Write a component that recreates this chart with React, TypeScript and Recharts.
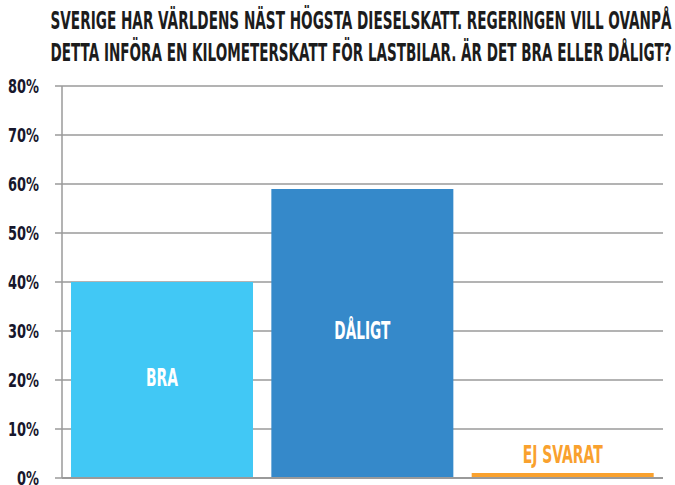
import { BarChart, Bar, XAxis, YAxis, CartesianGrid, Cell, LabelList } from "recharts";

const categories = ["BRA", "DÅLIGT", "EJ SVARAT"];
const values = [40, 59, 1];
const barColors = ["#41C8F5", "#3589CA", "#F9A12E"];
const yTicks = [0, 10, 20, 30, 40, 50, 60, 70, 80];
const titleLines = [
  "SVERIGE HAR VÄRLDENS NÄST HÖGSTA DIESELSKATT. REGERINGEN VILL OVANPÅ",
  "DETTA INFÖRA EN KILOMETERSKATT FÖR LASTBILAR. ÄR DET BRA ELLER DÅLIGT?",
];

const data = categories.map((name, i) => ({ name, value: values[i] }));

const FONT = "'Liberation Sans Narrow', 'DejaVu Sans Condensed', 'Arial Narrow', sans-serif";
const GRID = "#9a9a9a";

const YTick = (props: any) => {
  const { x, y, payload } = props;
  const label = `${payload.value}%`;
  return (
    <text
      x={x}
      y={y}
      dy={7}
      textAnchor="end"
      fill="#17172c"
      fontFamily={FONT}
      fontWeight={700}
      fontSize={19}
      textLength={label.length === 3 ? 31 : 22}
      lengthAdjust="spacingAndGlyphs"
    >
      {label}
    </text>
  );
};

const labelWidths: Record<string, number> = { BRA: 32, "DÅLIGT": 56, "EJ SVARAT": 80 };

const BarLabel = (props: any) => {
  const { x, y, width, height, index } = props;
  const name = categories[index];
  const inside = index < 2;
  const cx = x + width / 2;
  const cy = inside ? y + height / 2 + 6 : y - 10;
  return (
    <text
      x={cx}
      y={cy}
      textAnchor="middle"
      fill={inside ? "#ffffff" : barColors[index]}
      fontFamily={FONT}
      fontWeight={700}
      fontSize={24}
      textLength={labelWidths[name]}
      lengthAdjust="spacingAndGlyphs"
    >
      {name}
    </text>
  );
};

const App = () => {
  return (
    <div style={{ position: "absolute", left: 0, top: 0, width: 675, height: 485, background: "#fff" }}>
      <svg width={675} height={80} style={{ position: "absolute", left: 0, top: 0 }}>
        {titleLines.map((line, i) => (
          <text
            key={i}
            x={361}
            y={29 + i * 32}
            textAnchor="middle"
            fill="#1c1c1c"
            fontFamily={FONT}
            fontWeight={700}
            fontSize={25}
            textLength={621}
            lengthAdjust="spacingAndGlyphs"
          >
            {line}
          </text>
        ))}
      </svg>
      <BarChart
        width={675}
        height={485}
        data={data}
        margin={{ top: 86, right: 12, bottom: 0, left: 0 }}
        barCategoryGap="4.5%"
      >
        <CartesianGrid horizontal vertical={false} stroke={GRID} strokeWidth={1.5} />
        <XAxis
          dataKey="name"
          height={7}
          tick={false}
          tickLine={false}
          axisLine={{ stroke: GRID, strokeWidth: 2 }}
        />
        <YAxis
          domain={[0, 80]}
          ticks={yTicks}
          width={62}
          tickSize={7}
          tickMargin={16}
          interval={0}
          axisLine={{ stroke: GRID, strokeWidth: 1.5 }}
          tickLine={{ stroke: GRID, strokeWidth: 1.5 }}
          tick={<YTick />}
        />
        <Bar dataKey="value" isAnimationActive={false}>
          {data.map((d, i) => (
            <Cell key={d.name} fill={barColors[i]} />
          ))}
          <LabelList dataKey="value" content={<BarLabel />} />
        </Bar>
      </BarChart>
    </div>
  );
};

export default App;
